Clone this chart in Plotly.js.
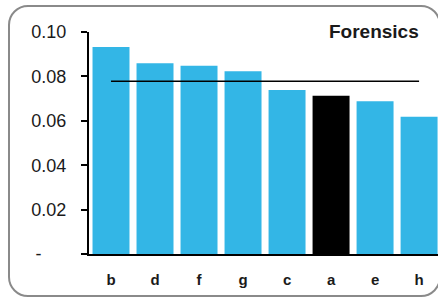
<!DOCTYPE html>
<html>
<head>
<meta charset="utf-8">
<script src="https://cdn.plot.ly/plotly-3.0.1.min.js"></script>
<style>
  html, body { margin: 0; padding: 0; background: #fff; }
  #wrap { position: relative; width: 438px; height: 301px; overflow: hidden; }
  #chart { position: absolute; left: 0; top: 0; width: 438px; height: 301px; }
  #frame { position: absolute; left: 8px; top: 5px; width: 433px; height: 292px;
           box-sizing: border-box; border: 2px solid #8a8a8a; border-radius: 20px;
           pointer-events: none; }
</style>
</head>
<body>
<div id="wrap"><div id="chart"></div><div id="frame"></div></div>
<script>
// ---- data ----
const categories = ['b', 'd', 'f', 'g', 'c', 'a', 'e', 'h'];
const values = [0.0932, 0.0859, 0.0848, 0.0823, 0.0739, 0.0713, 0.0688, 0.0618];
const highlighted = 'a';
const averageValue = 0.0778;
const yTickValues = [0, 0.02, 0.04, 0.06, 0.08, 0.10];
const yTickLabels = ['-', '0.02', '0.04', '0.06', '0.08', '0.10'];
const chartTitle = 'Forensics';

// ---- drawing ----
const blue = '#33B6E6';
const barColors = categories.map(c => c === highlighted ? '#000000' : blue);
const avgLine = categories.map(() => averageValue);
const tickText = yTickLabels.map(t => t === '-' ? '-\u00a0\u00a0\u00a0\u00a0\u00a0' : t);

const font = 'Liberation Sans, Arial, sans-serif';

const traces = [
  {
    type: 'bar', x: categories, y: values,
    marker: { color: barColors, line: { width: 0 } },
    hoverinfo: 'none'
  },
  {
    type: 'scatter', mode: 'lines', x: categories, y: avgLine,
    line: { color: '#000000', width: 1.6 },
    hoverinfo: 'none'
  }
];

const layout = {
  width: 438, height: 301,
  margin: { l: 89, r: 0, t: 32, b: 47, pad: 0 },
  paper_bgcolor: '#ffffff', plot_bgcolor: 'rgba(0,0,0,0)',
  showlegend: false,
  bargap: 0.16,
  font: { family: font, color: '#1a1a1a' },
  xaxis: {
    type: 'category', range: [-0.5, 7.43],
    showline: true, linecolor: '#000000', linewidth: 2,
    ticks: '', showgrid: false, zeroline: false,
    tickfont: { family: font, size: 15, weight: 'bold', color: '#1a1a1a' },
    ticklabelstandoff: 11,
    fixedrange: true
  },
  yaxis: {
    range: [0, 0.1],
    tickvals: yTickValues, ticktext: tickText,
    showline: true, linecolor: '#000000', linewidth: 2,
    ticks: 'outside', ticklen: 6, tickwidth: 2, tickcolor: '#000000',
    showgrid: false, zeroline: false,
    tickfont: { family: font, size: 18, color: '#1a1a1a' },
    ticklabelstandoff: 11,
    fixedrange: true
  },
  annotations: [{
    text: chartTitle, xref: 'paper', yref: 'paper',
    x: (421 - 89) / 349, y: (254 - 31) / 222,
    xanchor: 'right', yanchor: 'middle', showarrow: false,
    font: { family: font, size: 19, weight: 'bold', color: '#1a1a1a' }
  }]
};

Plotly.newPlot('chart', traces, layout, { displayModeBar: false, staticPlot: true });
</script>
</body>
</html>
